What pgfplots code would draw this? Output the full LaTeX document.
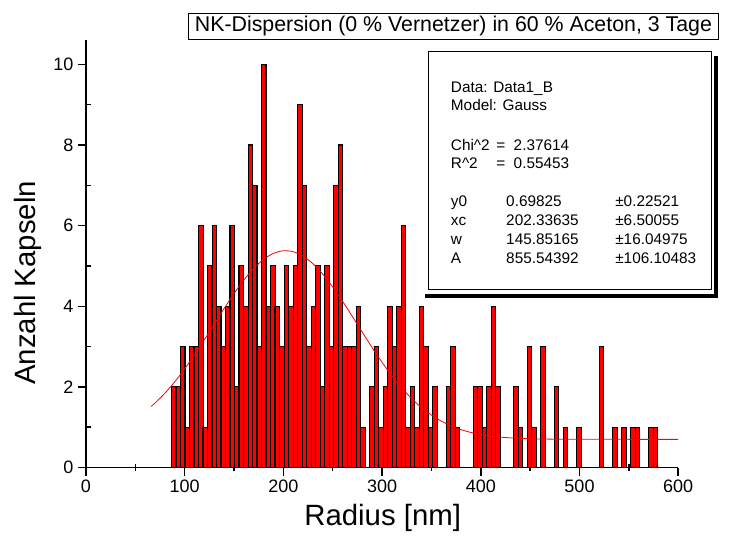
\documentclass[border=0pt]{standalone}
\usepackage{pgfplots}
\pgfplotsset{compat=1.18}
\usepackage{pgfplotstable}
\usepackage{fontspec}
\setmainfont{Liberation Sans}

% capsule radius histogram (bin centres in nm, counts)
\pgfplotstableread{
r n
88.9 2
93.5 2
98.0 3
102.6 1
107.1 3
111.7 3
116.3 6
120.8 1
125.4 5
130.0 6
134.5 4
139.1 3
143.6 4
148.2 6
152.8 2
157.3 5
161.9 4
166.5 8
171.0 7
175.6 3
180.1 10
184.7 4
189.3 5
193.8 4
198.4 3
203.0 5
207.5 4
212.1 5
216.6 9
221.2 7
225.8 3
230.3 4
234.9 5
239.4 2
244.0 5
248.6 3
253.1 7
257.7 8
262.3 3
266.8 3
271.4 3
275.9 4
280.5 1
289.6 2
294.2 3
298.8 1
303.3 2
307.9 4
312.4 3
317.0 4
321.6 6
326.1 1
330.7 2
335.2 1
339.8 4
344.4 3
348.9 1
353.5 2
367.2 2
371.7 3
376.3 1
394.6 2
399.1 2
403.7 1
408.2 2
412.8 4
417.4 2
435.6 2
440.2 1
449.3 3
453.9 1
463.0 3
476.7 2
485.8 1
499.5 1
522.3 3
536.0 1
545.1 1
554.2 1
558.8 1
572.5 1
577.0 1
}\radii

% Gauss fit, tabulated
\pgfplotstableread{
x y
66 1.5135
70 1.6003
80 1.8442
90 2.1270
100 2.4466
110 2.7977
120 3.1724
130 3.5596
140 3.9457
150 4.3156
160 4.6522
170 4.9398
180 5.1636
190 5.3115
200 5.3756
210 5.3521
220 5.2427
230 5.0531
240 4.7936
250 4.4780
260 4.1215
270 3.7410
280 3.3525
290 2.9704
300 2.6071
310 2.2719
320 1.9715
330 1.7092
340 1.4860
350 1.3007
360 1.1504
370 1.0312
380 0.9390
390 0.8689
400 0.8171
410 0.7794
420 0.7526
440 0.7214
460 0.7074
480 0.7016
500 0.6994
520 0.6986
560 0.6983
600 0.6983
}\gaussfit

\begin{document}
\begin{tikzpicture}
\begin{axis}[
  scale only axis,
  width=444pt, height=320.4pt,
  xmin=0, xmax=600, ymin=0, ymax=10.6,
  axis lines*=left,
  axis line style={line width=1.3pt},
  xtick={0,100,...,600}, ytick={0,2,...,10},
  minor x tick num=1, minor y tick num=1,
  tick align=outside,
  major tick length=6pt, minor tick length=5pt,
  every tick/.style={black, line width=1.1pt},
  minor x tick style={yshift=2.5pt},
  minor y tick style={xshift=4pt},
  tick label style={font=\fontsize{13.5}{16}\selectfont},
  /pgf/number format/assume math mode=true,
  xlabel={Radius [nm]},
  ylabel={Anzahl Kapseln},
  label style={font=\fontsize{22}{26}\selectfont},
  xlabel style={at={(axis description cs:0.501,-0.119)}, anchor=center},
  ylabel style={at={(axis description cs:-0.098,0.432)}, anchor=center},
  clip=false,
]
\addplot[ybar, bar width=4.562, fill=red, draw=black, line width=0.8pt] table[x=r, y=n] {\radii};
\addplot[red, line width=0.6pt, smooth, no marks] table[x=x, y=y] {\gaussfit};

% title box
\node[draw=black, line width=0.6pt, fill=white, minimum width=398pt, minimum height=20pt,
      inner sep=0pt, font=\fontsize{16}{18}\selectfont]
  at (axis cs:372.3,10.94) {NK-Dispersion (0 \% Vernetzer) in 60 \% Aceton, 3 Tage};

% fit report box with shadow
\draw[line width=3.3pt] (axis cs:343.5,4.255) -- (axis cs:638.3,4.255) -- (axis cs:638.3,10.207);
\draw[line width=0.6pt, fill=white] (axis cs:346.5,4.424) rectangle (axis cs:633.2,10.313);
\begin{scope}[every node/.style={anchor=base west, inner sep=0pt, font=\fontsize{11.5}{13}\selectfont}]
\node at (axis cs:369.5,9.305) {Data: Data1\_B};
\node at (axis cs:369.5,8.866) {Model: Gauss};
\node at (axis cs:369.5,7.873) {Chi\textasciicircum 2};
\node at (axis cs:415.4,7.873) {=\ \ 2.37614};
\node at (axis cs:369.5,7.419) {R\textasciicircum 2};
\node at (axis cs:415.4,7.419) {=\ \ 0.55453};
\node at (axis cs:369.5,6.467) {y0};
\node at (axis cs:425.5,6.467) {0.69825};
\node at (axis cs:536.0,6.467) {±0.22521};
\node at (axis cs:369.5,5.995) {xc};
\node at (axis cs:425.5,5.995) {202.33635};
\node at (axis cs:536.0,5.995) {±6.50055};
\node at (axis cs:369.5,5.533) {w};
\node at (axis cs:425.5,5.533) {145.85165};
\node at (axis cs:536.0,5.533) {±16.04975};
\node at (axis cs:369.5,5.062) {A};
\node at (axis cs:425.5,5.062) {855.54392};
\node at (axis cs:536.0,5.062) {±106.10483};
\end{scope}

% page frame
\path (axis cs:-87.13,-1.804) rectangle (axis cs:653.5,11.596);
\end{axis}
\end{tikzpicture}
\end{document}
